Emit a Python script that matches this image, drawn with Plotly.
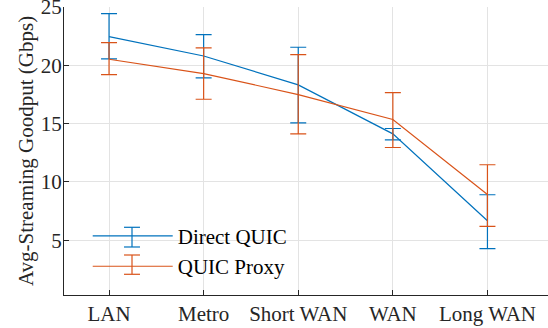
import plotly.graph_objects as go

categories = ["LAN", "Metro", "Short WAN", "WAN", "Long WAN"]
x_pos = [1, 2, 3, 4, 5]

direct_mean = [22.46, 20.80, 18.32, 14.12, 6.67]
direct_upper = [24.43, 22.63, 21.55, 14.58, 8.90]
direct_lower = [20.55, 18.92, 15.06, 13.61, 4.27]

proxy_mean = [20.52, 19.29, 17.49, 15.35, 8.92]
proxy_upper = [21.94, 21.49, 20.91, 17.66, 11.47]
proxy_lower = [19.20, 17.09, 14.12, 12.95, 6.18]

y_ticks = [5, 10, 15, 20, 25]

BLUE = "#0072BD"
ORANGE = "#D95319"
FONT = "Liberation Serif"
FS = 21

def errs(mean, up, lo):
    return [u - m for u, m in zip(up, mean)], [m - l for m, l in zip(mean, lo)]

fig = go.Figure()
for name, mean, up, lo, col in [
    ("Direct QUIC", direct_mean, direct_upper, direct_lower, BLUE),
    ("QUIC Proxy", proxy_mean, proxy_upper, proxy_lower, ORANGE),
]:
    plus, minus = errs(mean, up, lo)
    fig.add_trace(go.Scatter(
        x=x_pos, y=mean, name=name, mode="lines",
        line=dict(color=col, width=1.2),
        error_y=dict(type="data", symmetric=False, array=plus, arrayminus=minus,
                     color=col, thickness=1.2, width=8),
    ))

# error-bar glyphs inside the legend symbols (legend decoration)
legend_glyphs = [(BLUE, 0.2351, 0.1667), (ORANGE, 0.1389, 0.0719)]
gx, ghw = 0.1405, 0.0165
for col, ytop, ybot in legend_glyphs:
    fig.add_shape(type="line", xref="paper", yref="paper", x0=gx, x1=gx, y0=ybot, y1=ytop,
                  line=dict(color=col, width=1.2))
    for yy in (ytop, ybot):
        fig.add_shape(type="line", xref="paper", yref="paper", x0=gx - ghw, x1=gx + ghw, y0=yy, y1=yy,
                      line=dict(color=col, width=1.2))

fig.update_layout(
    width=548, height=328,
    margin=dict(l=64, r=0, t=7, b=33, autoexpand=False),
    paper_bgcolor="white", plot_bgcolor="white",
    font=dict(family=FONT, size=FS, color="#262626"),
    showlegend=True,
    legend=dict(x=0.049, y=0.275, xanchor="left", yanchor="top",
                bgcolor="rgba(0,0,0,0)", itemwidth=80,
                font=dict(family=FONT, size=FS, color="#000000"),
                tracegroupgap=0),
)
fig.update_xaxes(
    range=[0.524, 5.64], tickmode="array", tickvals=x_pos, ticktext=categories,
    showgrid=True, gridcolor="#e3e3e3", gridwidth=1,
    showline=True, linecolor="#262626", linewidth=1,
    ticks="inside", ticklen=5, tickcolor="#262626",
    tickfont=dict(family=FONT, size=FS, color="#262626"),
    zeroline=False, automargin=False, ticklabeloverflow="allow",
)
fig.update_yaxes(
    range=[0.3, 25.001], tickmode="array", tickvals=y_ticks,
    showgrid=True, gridcolor="#e3e3e3", gridwidth=1,
    showline=True, linecolor="#262626", linewidth=1,
    ticks="inside", ticklen=5, tickcolor="#262626",
    tickfont=dict(family=FONT, size=FS, color="#262626"),
    ticklabelstandoff=-3,
    title=dict(text="Avg-Streaming Goodput (Gbps)", font=dict(family=FONT, size=FS, color="#262626"), standoff=1),
    zeroline=False, automargin=False, ticklabeloverflow="allow",
)
fig.write_html("out.html", config={"displayModeBar": False},
               post_script="document.body.style.margin='0';document.body.style.overflow='hidden';")
